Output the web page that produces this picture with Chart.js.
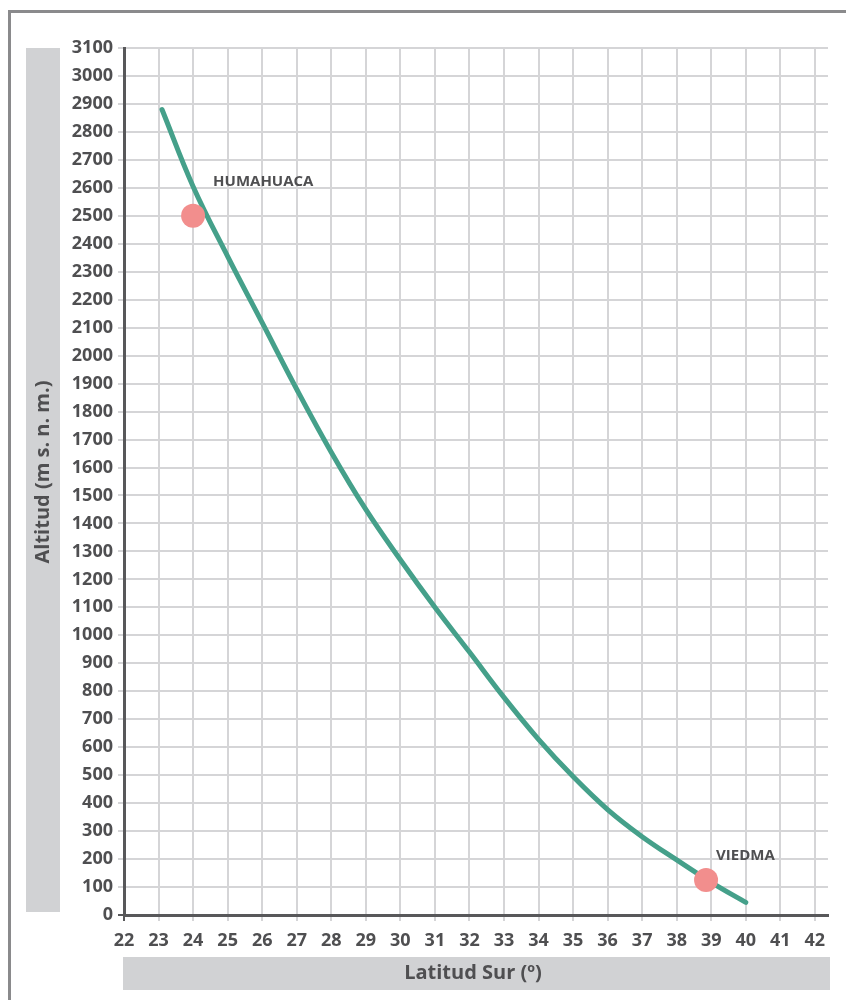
<!DOCTYPE html>
<html lang="es">
<head>
<meta charset="utf-8">
<title>Altitud y latitud</title>
<script src="https://cdn.jsdelivr.net/npm/chart.js@4.4.1/dist/chart.umd.min.js"></script>
<style>
  html, body { margin: 0; padding: 0; background: #fff; }
  #wrap { position: relative; width: 846px; height: 1000px; overflow: hidden; }
  #marco {
    position: absolute; left: 8px; top: 10px; width: 900px; height: 1100px;
    border-top: 3px solid #8a8a8c; border-left: 3px solid #8a8a8c;
  }
  canvas { position: absolute; left: 0; top: 0; }
</style>
</head>
<body>
<div id="wrap">
  <div id="marco"></div>
  <canvas id="grafico" width="846" height="1000"></canvas>
</div>
<script>
// Curva altitud / latitud
const latitudes = [23.1, 24, 25, 26, 27, 28, 29, 30, 31, 32, 33, 34, 35, 36, 37, 38, 39, 40];
const altitudes = [2880, 2605, 2355, 2118, 1880, 1655, 1450, 1270, 1100, 940, 778, 628, 495, 377, 280, 197, 117, 45];

// Ciudades marcadas
const ciudades = ["HUMAHUACA", "VIEDMA"];
const ciudadLat = [24, 38.85];
const ciudadAlt = [2500, 125];

// Ejes
const xMin = 22, xMax = 42;
const yMin = 0, yMax = 3100;
const tituloY = "Altitud (m s. n. m.)";
const tituloX = "Latitud Sur (º)";

const gris = "#4f4f51";
const ejeColor = "#58585a";
const rejilla = "#d5d5d7";
const caja = "#d1d2d4";
const fuente = "'Open Sans', 'Liberation Sans', sans-serif";

// 1. Cajas grises de los títulos + etiquetas de ciudades
const titulosPlugin = {
  id: "titulos",
  beforeDraw(chart) {
    const { ctx, chartArea } = chart;
    ctx.save();
    ctx.fillStyle = caja;
    ctx.fillRect(26, chartArea.top, 34, chartArea.bottom - chartArea.top - 3);
    ctx.fillRect(chartArea.left - 1, 957, chartArea.right - chartArea.left + 3, 33);

    ctx.fillStyle = gris;
    ctx.font = "bold 20px " + fuente;
    ctx.textAlign = "center";
    ctx.textBaseline = "middle";
    ctx.fillText(tituloX, 473, 973);

    ctx.translate(43, 472);
    ctx.rotate(-Math.PI / 2);
    ctx.fillText(tituloY, 0, 0);
    ctx.restore();
  },
  afterDatasetsDraw(chart, args, opts) {
    const { ctx, scales } = chart;
    ctx.save();
    ctx.fillStyle = gris;
    ctx.font = "bold 15px " + fuente;
    ctx.textBaseline = "middle";
    ciudades.forEach((nombre, i) => {
      const px = scales.x.getPixelForValue(ciudadLat[i]) + opts.offsets[i][0];
      const py = scales.y.getPixelForValue(ciudadAlt[i]) + opts.offsets[i][1];
      ctx.fillText(nombre, px, py);
    });
    ctx.restore();
  },
};

function initChart() {
  const ctx = document.getElementById("grafico").getContext("2d");

  new Chart(ctx, {
    type: "scatter",
    data: {
      datasets: [
        {
          data: ciudadLat.map((x, i) => ({ x, y: ciudadAlt[i] })),
          backgroundColor: "#f28e8d",
          borderWidth: 0,
          pointRadius: 12,
          pointHoverRadius: 12,
          order: 0,
        },
        {
          type: "line",
          data: latitudes.map((x, i) => ({ x, y: altitudes[i] })),
          borderColor: "#45a08a",
          borderWidth: 5,
          borderCapStyle: "round",
          tension: 0.4,
          pointRadius: 0,
          fill: false,
          order: 1,
        },
      ],
    },
    options: {
      responsive: false,
      animation: false,
      events: [],
      layout: { padding: { top: 48, right: 18, left: 0, bottom: 0 } },
      plugins: {
        legend: { display: false },
        tooltip: { enabled: false },
        titulos: { offsets: [[20, -34], [10, -24]] },
      },
      scales: {
        x: {
          type: "linear",
          min: xMin,
          max: xMax + 0.38,
          afterFit: (s) => { s.height = 85; },
          afterBuildTicks: (s) => {
            s.ticks = s.ticks.filter((t) => Number.isInteger(t.value) && t.value <= xMax);
          },
          ticks: {
            stepSize: 1,
            includeBounds: false,
            autoSkip: false,
            maxRotation: 0,
            padding: 9,
            color: gris,
            font: { family: fuente, size: 18, weight: "bold" },
            callback: (v) => String(v),
          },
          grid: {
            color: (c) => (c.tick && c.tick.value === xMin ? ejeColor : rejilla),
            lineWidth: 2,
            tickLength: 6,
          },
          border: { color: ejeColor, width: 3 },
        },
        y: {
          min: yMin,
          max: yMax,
          afterFit: (s) => { s.width = 124; },
          ticks: {
            stepSize: 100,
            autoSkip: false,
            padding: 5,
            color: gris,
            font: { family: fuente, size: 18, weight: "bold" },
            callback: (v) => String(v),
          },
          grid: {
            color: (c) => (c.tick && c.tick.value === yMin ? ejeColor : rejilla),
            lineWidth: 2,
            tickLength: 6,
          },
          border: { color: ejeColor, width: 3 },
        },
      },
    },
    plugins: [titulosPlugin],
  });
}

document.addEventListener("DOMContentLoaded", initChart);
</script>
</body>
</html>
